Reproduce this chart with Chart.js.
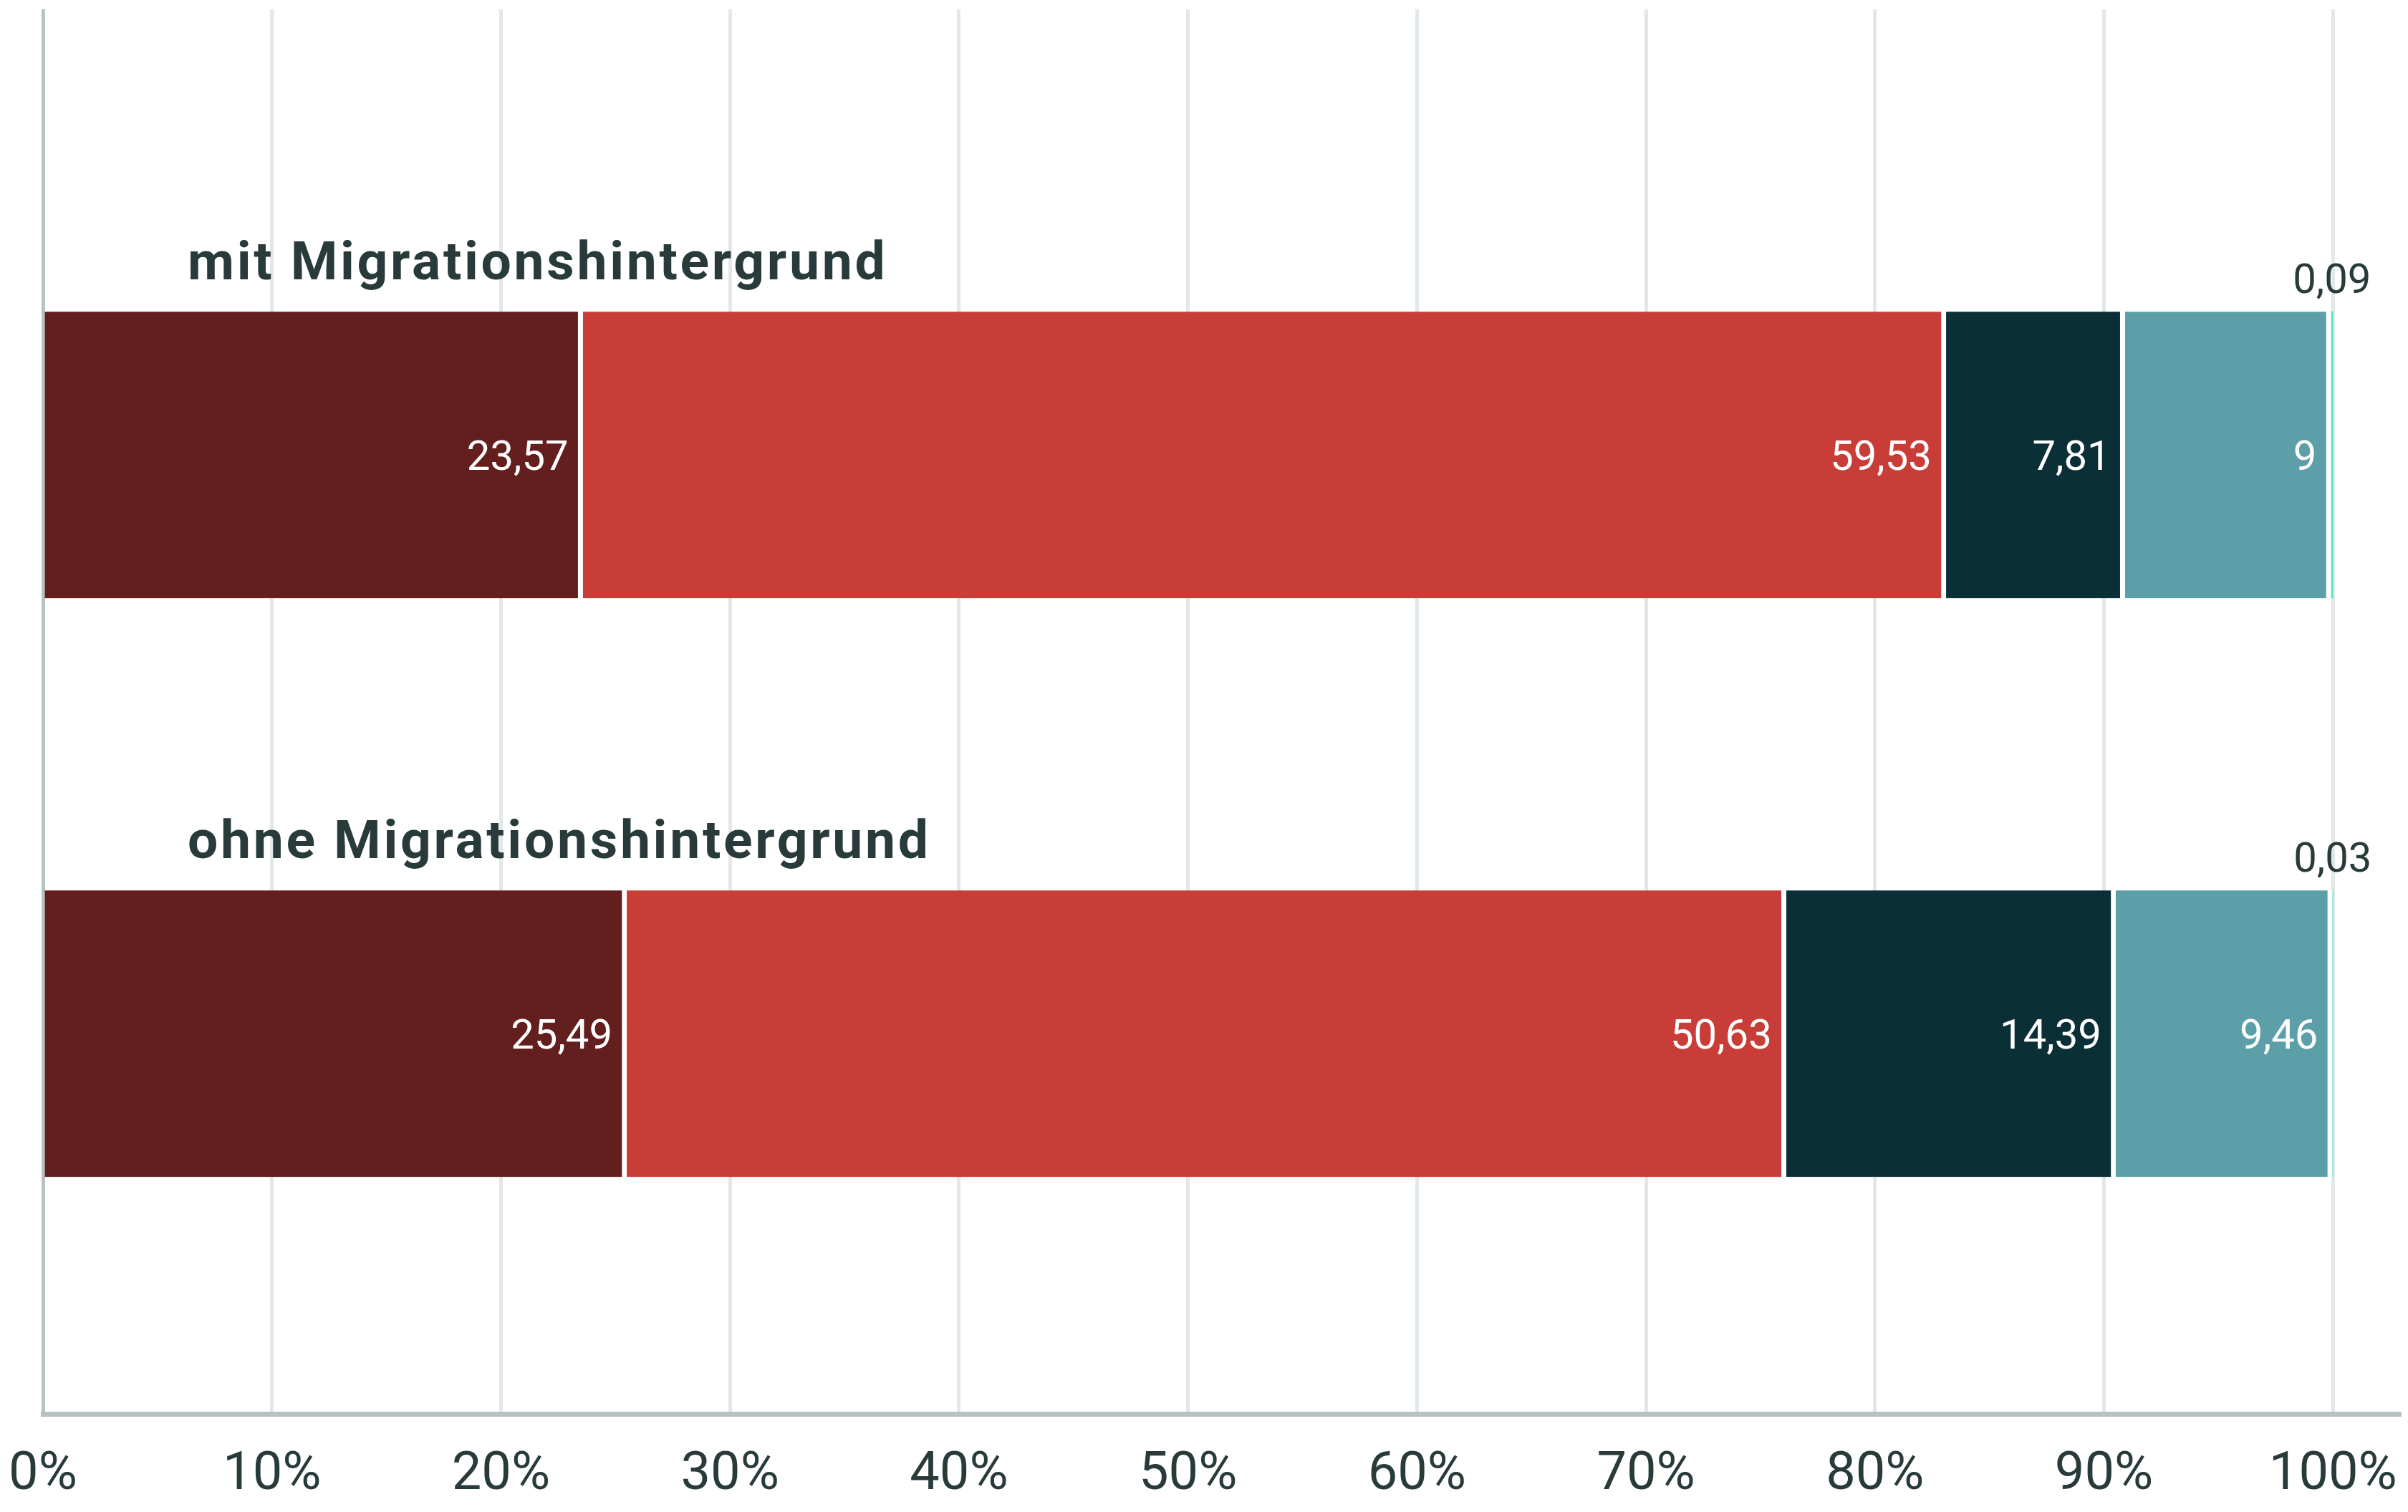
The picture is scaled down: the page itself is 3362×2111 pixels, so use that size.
<!DOCTYPE html>
<html lang="de">
<head>
<meta charset="utf-8">
<title>Migrationshintergrund</title>
<script src="https://cdn.jsdelivr.net/npm/chart.js@4.4.1/dist/chart.umd.min.js"></script>
<style>
  html, body { margin: 0; padding: 0; background: #fff; }
  #wrap { width: 3362px; height: 2111px; position: relative; }
</style>
</head>
<body>
<div id="wrap"><canvas id="chart"></canvas></div>
<script>
// Daten
const categories = ['mit Migrationshintergrund', 'ohne Migrationshintergrund'];
const seriesDarkRed = [23.57, 25.49];
const seriesRed = [59.53, 50.63];
const seriesNavy = [7.81, 14.39];
const seriesTeal = [9, 9.46];
const seriesMint = [0.09, 0.03];
const tickStep = 10;   // 0% ... 100%

const colors = ['#631e1e', '#c93d38', '#0b2f36', '#5c9fa8', '#66e0c4'];
const textDark = '#283a3a';
const BAR = 400;

const fmt = v => v.toLocaleString('de-DE');

const toPoints = arr => arr.map((v, i) => ({ x: v, y: i }));

// Werte + Kategorie-Titel
const labelPlugin = {
    id: 'segmentLabels',
    afterDatasetsDraw(chart) {
        const ctx = chart.ctx;
        ctx.save();
        chart.data.datasets.forEach((ds, di) => {
            const meta = chart.getDatasetMeta(di);
            meta.data.forEach((bar, i) => {
                const v = ds.data[i].x;
                ctx.font = '400 58px Roboto';
                ctx.textBaseline = 'alphabetic';
                if (v >= 1) {
                    ctx.fillStyle = '#ffffff';
                    ctx.textAlign = 'right';
                    ctx.fillText(fmt(v), bar.x - 20, bar.y + 21);
                } else {
                    ctx.fillStyle = textDark;
                    ctx.textAlign = 'center';
                    ctx.fillText(fmt(v), (bar.x + bar.base) / 2, bar.y - BAR / 2 - 26);
                }
            });
        });

        const yScale = chart.scales.y;
        ctx.font = '700 75px Roboto';
        ctx.letterSpacing = '3.7px';
        ctx.fillStyle = textDark;
        ctx.textAlign = 'left';
        ctx.textBaseline = 'alphabetic';
        categories.forEach((c, i) => {
            const yc = yScale.getPixelForValue(i);
            ctx.fillText(c, chart.chartArea.left + 202, yc - BAR / 2 - 45);
        });
        ctx.restore();
    }
};

const build = () => {
    const ctx = document.getElementById('chart');
    const sets = [seriesDarkRed, seriesRed, seriesNavy, seriesTeal, seriesMint];

    new Chart(ctx, {
        type: 'bar',
        data: {
            datasets: sets.map((s, i) => ({
                data: toPoints(s),
                backgroundColor: colors[i],
                borderColor: '#ffffff',
                borderWidth: i === 4 ? 0 : { top: 0, right: 7, bottom: 0, left: 0 },
                borderSkipped: false,
                barThickness: BAR
            }))
        },
        options: {
            indexAxis: 'y',
            responsive: true,
            maintainAspectRatio: false,
            animation: false,
            events: [],
            layout: { padding: { top: 13, left: 60, right: 12, bottom: 0 } },
            plugins: {
                legend: { display: false },
                tooltip: { enabled: false }
            },
            scales: {
                x: {
                    type: 'linear',
                    stacked: true,
                    min: 0,
                    max: 102.9,
                    afterFit: scale => {
                        scale.height = 137;
                        scale.paddingLeft = 0;
                        scale.paddingRight = 0;
                    },
                    grid: {
                        drawTicks: false,
                        lineWidth: 5,
                        color: c => (c.tick && c.tick.value === 0) ? '#b7c3c3' : '#e2e8e8'
                    },
                    border: { display: true, color: '#b6c2c2', width: 7 },
                    ticks: {
                        stepSize: tickStep,
                        includeBounds: false,
                        padding: 42,
                        color: textDark,
                        font: { family: 'Roboto', size: 74 },
                        callback: v => v + '%'
                    }
                },
                y: {
                    type: 'linear',
                    stacked: true,
                    reverse: true,
                    offset: false,
                    min: -0.77,
                    max: 1.657,
                    grid: { display: false, drawTicks: false },
                    border: { display: false },
                    ticks: { display: false },
                    afterFit: scale => {
                        scale.width = 0;
                        scale.paddingTop = 0;
                        scale.paddingBottom = 0;
                    }
                }
            }
        },
        plugins: [labelPlugin]
    });
};

document.fonts.load('700 75px Roboto').then(() => document.fonts.load('400 58px Roboto')).then(build, build);
</script>
</body>
</html>
